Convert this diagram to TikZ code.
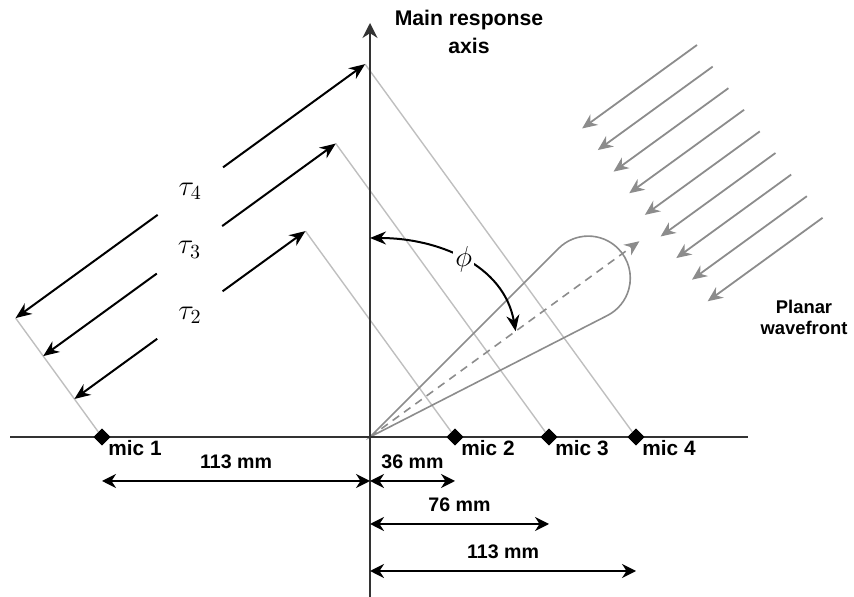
\documentclass[tikz,border=0pt]{standalone}
\usepackage{fontspec}
\setsansfont{Liberation Sans}
\usetikzlibrary{positioning,arrows.meta,shapes.geometric,calc}

\begin{document}
\begin{tikzpicture}[x=0.5pt, y=0.5pt,
  axisline/.style={line width=1pt, draw=black!80},
  mic/.style={diamond, fill=black, inner sep=0pt, minimum width=8.5pt, minimum height=8.5pt},
  miclabel/.style={font=\sffamily\bfseries\fontsize{10.4}{12}\selectfont, inner sep=0pt, anchor=north west},
  title/.style={font=\sffamily\bfseries\fontsize{10.6}{14}\selectfont, align=center},
  sidetitle/.style={font=\sffamily\bfseries\fontsize{9.2}{10.5}\selectfont, align=center},
  dimlabel/.style={font=\sffamily\bfseries\fontsize{9.8}{11}\selectfont, above=2.5pt},
  front/.style={draw=black!25, line width=0.7pt},
  wave/.style={draw=black!45, line width=0.9pt, -{Stealth[length=7.5pt, width=6.5pt]}},
  lobe/.style={draw=black!45, line width=0.8pt},
  beam/.style={draw=black!45, line width=0.8pt, dash pattern=on 4pt off 3pt, -{Stealth[length=7.5pt, width=6.5pt]}},
  arr/.style={line width=1pt, -{Stealth[length=8pt, width=6.5pt]}},
  dim/.style={line width=1pt, {Stealth[length=7pt, width=7pt]}-{Stealth[length=7pt, width=7pt]}},
  taulabel/.style={circle, inner sep=0pt, minimum size=40pt, font=\Large}
]
\useasboundingbox (0,0) rectangle (854,597);

\coordinate (o) at (370,160);
\coordinate (hl) at (10,160);
\coordinate (hr) at (748,160);
\coordinate (vb) at (370,0);
\coordinate (vt) at (370,574);

\node[mic] (m1) at (102,160) {};
\node[mic] (m2) at (455,160) {};
\node[mic] (m3) at (549,160) {};
\node[mic] (m4) at (636,160) {};

\coordinate (p2) at ($(m1.center)+(126:47)$);
\coordinate (p3) at ($(m1.center)+(126:100)$);
\coordinate (p4) at ($(m1.center)+(126:147)$);
\coordinate (q2) at ($(p2)+(36:285.6)$);
\coordinate (q3) at ($(p3)+(36:361.6)$);
\coordinate (q4) at ($(p4)+(36:432)$);

\draw[front] (m1.center) -- (p4);
\draw[front] (m2.center) -- (q2);
\draw[front] (m3.center) -- (q3);
\draw[front] (m4.center) -- (q4);

\draw[lobe] (o) -- ++(45:266.7) arc[start angle=135, end angle=-63, radius=42] -- cycle;
\coordinate (bt) at ($(o)+(36:333)$);
\draw[beam] (o) -- (bt);

\draw[axisline] (hl) -- (hr);
\draw[axisline, -{Stealth[length=7.5pt, width=7.5pt]}] (vb) -- (vt);
\node[title] (ax) at (469,565) {Main response\\axis};

\foreach \m/\t in {m1/mic 1, m2/mic 2, m3/mic 3, m4/mic 4}{
  \node[mic] at (\m) {};
  \node[miclabel] at ($(\m.center)+(6,-3)$) {\t};
}

\node[taulabel] (t2) at ($(p2)!0.5!(q2)$) {$\tau_2$};
\node[taulabel] (t3) at ($(p3)!0.5!(q3)$) {$\tau_3$};
\node[taulabel] (t4) at ($(p4)!0.5!(q4)$) {$\tau_4$};
\foreach \k in {2,3,4}{
  \draw[arr] (t\k) -- (p\k);
  \draw[arr] (t\k) -- (q\k);
}

\coordinate (fa) at ($(o)+(0,199)$);
\coordinate (fb) at ($(o)+(36:180)$);
\draw[arr, {Stealth[length=8pt, width=6.5pt]}-{Stealth[length=8pt, width=6.5pt]}] (fa) to[out=0, in=100] node[pos=0.5, fill=white, inner sep=1pt, font=\Large] {$\phi$} (fb);

\foreach \i in {0,...,8}{
  \coordinate (wt\i) at ($(697,552)+(-54:{26.7*\i})$);
  \coordinate (wh\i) at ($(wt\i)+(216:142)$);
  \draw[wave] (wt\i) -- (wh\i);
}
\node[sidetitle] (pw) at (804,280) {Planar\\wavefront};

\coordinate (y1) at (0,116);
\coordinate (y2) at (0,73);
\coordinate (y3) at (0,26);
\draw[dim] (m1 |- y1) -- node[dimlabel] {113 mm} (o |- y1);
\draw[dim] (o |- y1) -- node[dimlabel] {36 mm} (m2 |- y1);
\draw[dim] (o |- y2) -- node[dimlabel] {76 mm} (m3 |- y2);
\draw[dim] (o |- y3) -- node[dimlabel] {113 mm} (m4 |- y3);
\end{tikzpicture}
\end{document}
